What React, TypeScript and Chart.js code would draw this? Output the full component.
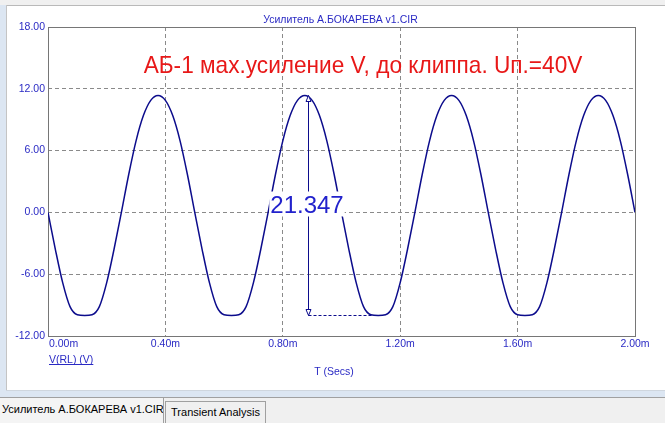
import React, { useEffect, useRef } from "react";
import { Chart, registerables } from "chart.js";

Chart.register(...registerables);

// ---- data ----
const timeMs = [
  0, 0.025, 0.05, 0.075, 0.1, 0.125, 0.15, 0.175, 0.2, 0.225,
  0.25, 0.275, 0.3, 0.325, 0.35, 0.375, 0.4, 0.425, 0.45, 0.475,
  0.5, 0.525, 0.55, 0.575, 0.6, 0.625, 0.65, 0.675, 0.7, 0.725,
  0.75, 0.775, 0.8, 0.825, 0.85, 0.875, 0.9, 0.925, 0.95, 0.975,
  1.0, 1.025, 1.05, 1.075, 1.1, 1.125, 1.15, 1.175, 1.2, 1.225,
  1.25, 1.275, 1.3, 1.325, 1.35, 1.375, 1.4, 1.425, 1.45, 1.475,
  1.5, 1.525, 1.55, 1.575, 1.6, 1.625, 1.65, 1.675, 1.7, 1.725,
  1.75, 1.775, 1.8, 1.825, 1.85, 1.875, 1.9, 1.925, 1.95, 1.975,
  2.0,
];

const vRL = [
  0, -3.58, -6.82, -9.15, -9.93, -10.0, -9.93, -9.15, -6.82, -3.58,
  0, 3.68, 6.95, 9.4, 10.88, 11.35, 10.88, 9.4, 6.95, 3.68,
  0, -3.58, -6.82, -9.15, -9.93, -10.0, -9.93, -9.15, -6.82, -3.58,
  0, 3.68, 6.95, 9.4, 10.88, 11.35, 10.88, 9.4, 6.95, 3.68,
  0, -3.58, -6.82, -9.15, -9.93, -10.0, -9.93, -9.15, -6.82, -3.58,
  0, 3.68, 6.95, 9.4, 10.88, 11.35, 10.88, 9.4, 6.95, 3.68,
  0, -3.58, -6.82, -9.15, -9.93, -10.0, -9.93, -9.15, -6.82, -3.58,
  0, 3.68, 6.95, 9.4, 10.88, 11.35, 10.88, 9.4, 6.95, 3.68,
  0,
];

const yTickValues = [-12, -6, 0, 6, 12, 18];
const xTickValues = [0, 0.4, 0.8, 1.2, 1.6, 2.0];
const xTickLabels = ["0.00m", "0.40m", "0.80m", "1.20m", "1.60m", "2.00m"];

const chartTitle = "Усилитель А.БОКАРЕВА v1.CIR";
const noteText = "АБ-1 мах.усиление V, до клиппа. Uп.=40V";
const seriesLabel = "V(RL) (V)";
const xAxisTitle = "T (Secs)";
const tabLabels = ["Усилитель А.БОКАРЕВА v1.CIR", "Transient Analysis"];

const measureT = 0.885;
const measureTop = 11.35;
const measureBottom = -10.0;
const measureEndT = 1.105;
const measureLabel = "21.347";

// ---- styles ----
const FONT = "Arial, 'Liberation Sans', sans-serif";
const BLUE = "#2a2ac4";
const CURVE = "#0c0c8c";
const GRID = "#8a8a8a";
const FRAME = "#767676";
const RED = "#e81818";

const overlay = {
  id: "overlay",
  beforeDatasetsDraw(chart: any) {
    const { ctx, chartArea: a } = chart;
    ctx.save();
    ctx.strokeStyle = FRAME;
    ctx.lineWidth = 1;
    ctx.strokeRect(a.left + 0.5, a.top + 0.5, a.right - a.left, a.bottom - a.top);
    ctx.restore();
  },
  afterDatasetsDraw(chart: any) {
    const { ctx, chartArea: a } = chart;
    const xs = chart.scales.x;
    const ys = chart.scales.y;
    ctx.save();

    // chart title
    ctx.fillStyle = BLUE;
    ctx.font = `10.5px ${FONT}`;
    ctx.textAlign = "center";
    ctx.textBaseline = "alphabetic";
    ctx.fillText(chartTitle, (a.left + a.right) / 2 - 1, a.top - 4);

    // x tick labels
    xTickValues.forEach((v, i) => {
      const px = xs.getPixelForValue(v);
      ctx.textAlign = i === 0 ? "left" : "center";
      ctx.fillText(xTickLabels[i], i === 0 ? px + 1 : px, a.bottom + 11);
    });

    // series label (underlined)
    ctx.textAlign = "left";
    const sx = a.left + 1;
    const sy = a.bottom + 27;
    ctx.fillText(seriesLabel, sx, sy);
    const sw = ctx.measureText(seriesLabel).width;
    ctx.strokeStyle = BLUE;
    ctx.lineWidth = 1;
    ctx.beginPath();
    ctx.moveTo(sx, sy + 1.5);
    ctx.lineTo(sx + sw, sy + 1.5);
    ctx.stroke();

    // x axis title
    ctx.textAlign = "center";
    ctx.fillText(xAxisTitle, 334, a.bottom + 39);

    // red note (slightly condensed to match the reference width)
    ctx.save();
    ctx.fillStyle = RED;
    ctx.font = `24px ${FONT}`;
    ctx.textAlign = "center";
    ctx.translate(363, 73);
    ctx.scale(0.943, 1);
    ctx.fillText(noteText, 0, 0);
    ctx.restore();

    // measurement
    const px = Math.round(xs.getPixelForValue(measureT)) + 0.5;
    const pTop = ys.getPixelForValue(measureTop);
    const pBot = Math.round(ys.getPixelForValue(measureBottom)) + 0.5;
    const pEnd = xs.getPixelForValue(measureEndT);
    ctx.strokeStyle = CURVE;
    ctx.lineWidth = 1;
    ctx.setLineDash([3, 2]);
    ctx.beginPath();
    ctx.moveTo(px, pBot);
    ctx.lineTo(pEnd, pBot);
    ctx.stroke();
    ctx.setLineDash([]);
    ctx.beginPath();
    ctx.moveTo(px, pTop);
    ctx.lineTo(px, pBot);
    ctx.stroke();
    // arrowheads
    ctx.beginPath();
    ctx.moveTo(px, pTop);
    ctx.lineTo(px - 2.5, pTop + 6);
    ctx.lineTo(px + 2.5, pTop + 6);
    ctx.closePath();
    ctx.fillStyle = "#ffffff";
    ctx.fill();
    ctx.stroke();
    ctx.beginPath();
    ctx.moveTo(px, pBot);
    ctx.lineTo(px - 2.5, pBot - 6);
    ctx.lineTo(px + 2.5, pBot - 6);
    ctx.closePath();
    ctx.fill();
    ctx.stroke();

    // label with white box
    ctx.font = `24px ${FONT}`;
    const tw = ctx.measureText(measureLabel).width;
    const mid = (pTop + pBot) / 2;
    const cx = px - 1.5;
    ctx.fillStyle = "#ffffff";
    ctx.fillRect(cx - tw / 2 - 1, mid - 14, tw + 2, 25);
    ctx.fillStyle = "#2222cc";
    ctx.textAlign = "center";
    ctx.textBaseline = "alphabetic";
    ctx.fillText(measureLabel, cx, mid + 8);

    ctx.restore();
  },
};

export default function App() {
  const canvasRef = useRef<HTMLCanvasElement | null>(null);

  useEffect(() => {
    document.body.style.margin = "0";
    const canvas = canvasRef.current;
    if (!canvas) return;
    const dashed = [4, 3];
    const chart = new Chart(canvas, {
      type: "line",
      data: {
        datasets: [
          {
            label: seriesLabel,
            data: timeMs.map((t, i) => ({ x: t, y: vRL[i] })),
            borderColor: CURVE,
            borderWidth: 1.5,
            pointRadius: 0,
            cubicInterpolationMode: "monotone",
            fill: false,
          },
        ],
      },
      options: {
        animation: false,
        responsive: false,
        devicePixelRatio: 1,
        events: [],
        layout: { padding: { top: 27, right: 30, bottom: 0, left: 0 } },
        plugins: {
          legend: { display: false },
          title: { display: false },
          tooltip: { enabled: false },
        },
        scales: {
          x: {
            type: "linear",
            min: 0,
            max: 2,
            afterBuildTicks: (s: any) => {
              s.ticks = xTickValues.map((v) => ({ value: v }));
            },
            ticks: { display: false },
            grid: { color: GRID, lineWidth: 1, drawTicks: false, borderDash: dashed } as any,
            border: { display: false, dash: dashed },
            afterFit: (s: any) => {
              s.height = 87;
            },
          },
          y: {
            type: "linear",
            min: -12,
            max: 18,
            afterBuildTicks: (s: any) => {
              s.ticks = yTickValues.map((v) => ({ value: v }));
            },
            ticks: {
              color: BLUE,
              padding: 3,
              font: { family: FONT, size: 10.5 },
              callback: (v: any) => Number(v).toFixed(2),
            },
            grid: { color: GRID, lineWidth: 1, drawTicks: false, borderDash: dashed } as any,
            border: { display: false, dash: dashed },
            afterFit: (s: any) => {
              s.width = 48;
            },
          },
        },
      } as any,
      plugins: [overlay],
    });
    return () => chart.destroy();
  }, []);

  const tabFont = `11px ${FONT}`;
  return (
    <div
      style={{
        position: "fixed",
        left: 0,
        top: 0,
        width: 665,
        height: 423,
        background: "#ffffff",
        overflow: "hidden",
      }}
    >
      {/* top strip */}
      <div style={{ position: "absolute", left: 0, top: 0, width: 665, height: 5, background: "#f0f0f0" }} />
      <div style={{ position: "absolute", left: 6, top: 5, width: 659, height: 1, background: "#b9b9b9" }} />
      {/* left strip */}
      <div style={{ position: "absolute", left: 0, top: 5, width: 6, height: 392, background: "#dce6f2" }} />
      <div style={{ position: "absolute", left: 6, top: 5, width: 1, height: 386, background: "#c4c4c4" }} />
      {/* bottom strip */}
      <div style={{ position: "absolute", left: 6, top: 390, width: 659, height: 1, background: "#cfd6de" }} />
      <div style={{ position: "absolute", left: 0, top: 391, width: 665, height: 6, background: "#dce6f2" }} />
      <div style={{ position: "absolute", left: 0, top: 397, width: 665, height: 1, background: "#a0a0a0" }} />
      <div style={{ position: "absolute", left: 0, top: 398, width: 665, height: 25, background: "#f0f0f0" }} />
      {/* tabs */}
      <div
        style={{
          position: "absolute",
          left: 0,
          top: 398,
          width: 164,
          height: 25,
          borderRight: "1px solid #a0a0a0",
          background: "#f4f4f4",
          font: tabFont,
          color: "#000",
          lineHeight: "22px",
          paddingLeft: 2,
          whiteSpace: "nowrap",
          overflow: "hidden",
          boxSizing: "border-box",
        }}
      >
        {tabLabels[0]}
      </div>
      <div
        style={{
          position: "absolute",
          left: 165,
          top: 401,
          width: 101,
          height: 22,
          border: "1px solid #a0a0a0",
          borderBottom: "none",
          background: "#f0f0f0",
          font: tabFont,
          color: "#000",
          lineHeight: "21px",
          textAlign: "center",
          whiteSpace: "nowrap",
          boxSizing: "border-box",
        }}
      >
        {tabLabels[1]}
      </div>
      <canvas
        ref={canvasRef}
        width={665}
        height={423}
        style={{ position: "absolute", left: 0, top: 0, width: 665, height: 423 }}
      />
    </div>
  );
}
